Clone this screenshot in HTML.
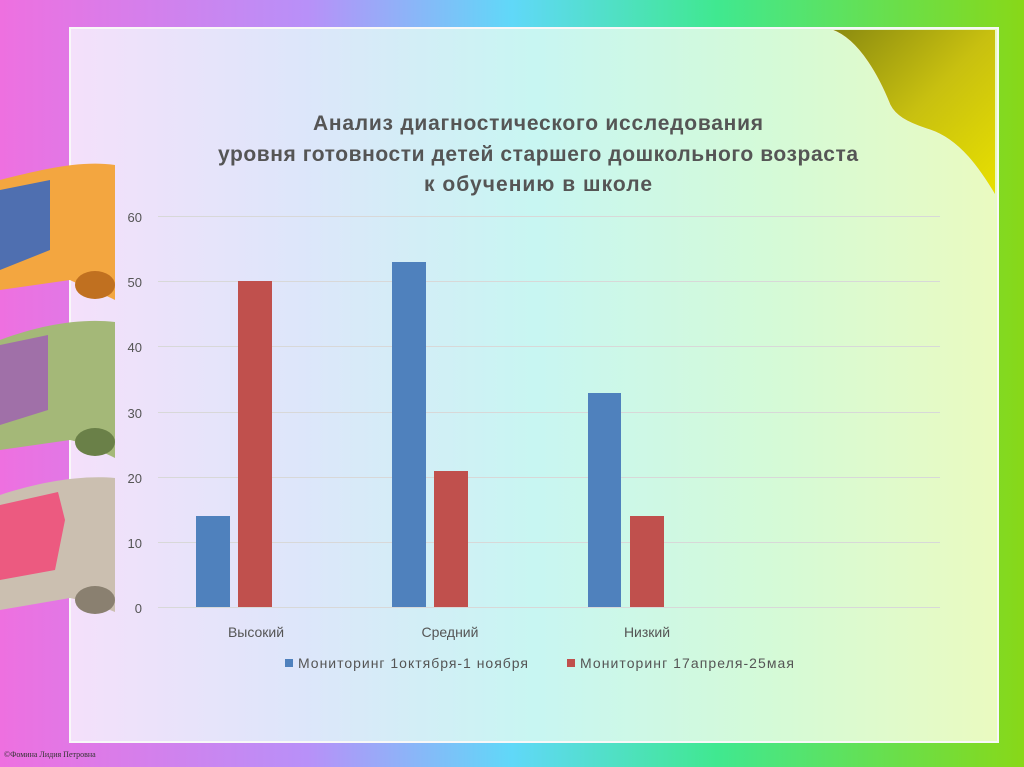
<!DOCTYPE html>
<html><head><meta charset="utf-8"><style>
html,body{margin:0;padding:0;width:1024px;height:767px;overflow:hidden;font-family:"Liberation Sans","Noto Sans CJK SC",sans-serif}
</style></head><body>
<svg width="1024" height="767" xmlns="http://www.w3.org/2000/svg">
<defs>
<linearGradient id="bg" x1="0" y1="0" x2="1" y2="0">
<stop offset="0" stop-color="#ee70e0"/><stop offset="0.3" stop-color="#b890f8"/><stop offset="0.5" stop-color="#60d8f8"/><stop offset="0.7" stop-color="#40e890"/><stop offset="1" stop-color="#88d818"/>
</linearGradient>
<linearGradient id="pn" x1="0" y1="0" x2="1" y2="0">
<stop offset="0" stop-color="#f4e0fa"/><stop offset="0.25" stop-color="#dde6fa"/><stop offset="0.5" stop-color="#c8f6f2"/><stop offset="0.75" stop-color="#d4fad8"/><stop offset="1" stop-color="#eafac0"/>
</linearGradient>
<linearGradient id="curl" x1="0" y1="0" x2="1" y2="1">
<stop offset="0" stop-color="#8a8a10"/><stop offset="0.5" stop-color="#c8c010"/><stop offset="1" stop-color="#e8e000"/>
</linearGradient>
</defs>
<rect width="1024" height="767" fill="url(#bg)"/>
<rect x="70" y="28" width="928" height="714" fill="url(#pn)" stroke="#f8f8f8" stroke-width="2"/>
<path d="M832,30 L995,30 L995,195 C980,170 960,140 930,130 C905,122 895,115 890,105 C880,80 860,40 832,30 Z" fill="url(#curl)"/>
<path d="M832,30 C860,40 880,80 890,105 C895,115 905,122 930,130 C960,140 980,170 995,195 L995,215" fill="none" stroke="#e8f6d0" stroke-width="1"/>
<path d="M0,180 C40,170 80,160 115,165 L115,300 C95,290 80,285 70,280 L0,290 Z" fill="#f3a640"/>
<path d="M0,190 L50,180 L50,250 L0,270 Z" fill="#4f6fb0"/>
<ellipse cx="95" cy="285" rx="20" ry="14" fill="#c07020"/>
<path d="M0,340 C40,325 80,318 115,322 L115,458 C95,448 80,442 70,440 L0,450 Z" fill="#a4b878"/>
<path d="M0,345 L48,335 L48,410 L0,425 Z" fill="#a070a8"/>
<ellipse cx="95" cy="442" rx="20" ry="14" fill="#6a8048"/>
<path d="M0,495 C40,482 80,475 115,478 L115,612 C95,604 80,600 70,598 L0,610 Z" fill="#cbbfb0"/>
<path d="M0,505 L58,492 L65,520 L55,570 L0,580 Z" fill="#ec5a80"/>
<ellipse cx="95" cy="600" rx="20" ry="14" fill="#8a8070"/>
<g font-weight="bold" font-size="21" fill="#555" text-anchor="middle">
<text x="538" y="130" textLength="450">Анализ диагностического исследования</text>
<text x="538" y="161" textLength="640">уровня готовности детей старшего дошкольного возраста</text>
<text x="538" y="191" textLength="228">к обучению в школе</text>
</g>
<g stroke="#d8d8d8" stroke-width="1">
<line x1="158" x2="940" y1="216.5" y2="216.5"/><line x1="158" x2="940" y1="281.5" y2="281.5"/>
<line x1="158" x2="940" y1="346.5" y2="346.5"/><line x1="158" x2="940" y1="412.5" y2="412.5"/>
<line x1="158" x2="940" y1="477.5" y2="477.5"/><line x1="158" x2="940" y1="542.5" y2="542.5"/>
<line x1="158" x2="940" y1="607.5" y2="607.5"/>
</g>
<g font-size="13" fill="#555" text-anchor="end">
<text x="142" y="222">60</text><text x="142" y="287">50</text><text x="142" y="352">40</text>
<text x="142" y="418">30</text><text x="142" y="483">20</text><text x="142" y="548">10</text><text x="142" y="613">0</text>
</g>
<g>
<rect x="196" y="516" width="34" height="91" fill="#4f81bd"/>
<rect x="238" y="281" width="34" height="326" fill="#c0504d"/>
<rect x="392" y="262" width="34" height="345" fill="#4f81bd"/>
<rect x="434" y="471" width="34" height="136" fill="#c0504d"/>
<rect x="588" y="393" width="33" height="214" fill="#4f81bd"/>
<rect x="630" y="516" width="34" height="91" fill="#c0504d"/>
</g>
<g font-size="14" fill="#555" text-anchor="middle">
<text x="256" y="637">Высокий</text><text x="450" y="637">Средний</text><text x="647" y="637">Низкий</text>
</g>
<rect x="285" y="659" width="8" height="8" fill="#4f81bd"/>
<text x="298" y="668" font-size="14" fill="#555" textLength="230">Мониторинг 1октября-1 ноября</text>
<rect x="567" y="659" width="8" height="8" fill="#c0504d"/>
<text x="580" y="668" font-size="14" fill="#555" textLength="214">Мониторинг 17апреля-25мая</text>
<text x="4" y="757" font-size="8" fill="#333" font-family="Liberation Serif,serif">©Фомина Лидия Петровна</text>
</svg>
</body></html>
